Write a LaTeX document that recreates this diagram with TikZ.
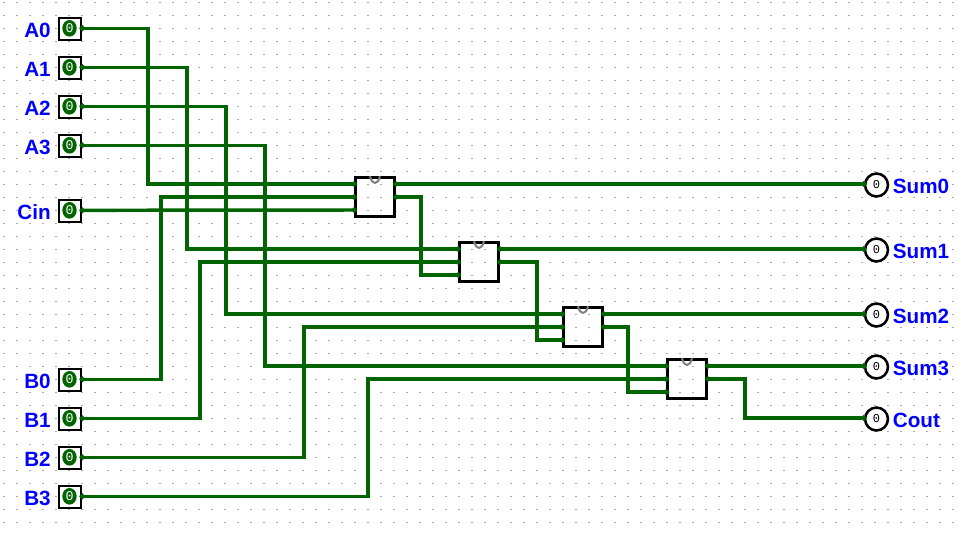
\documentclass[tikz,border=0pt]{standalone}
\usepackage{fontspec}
\usepackage{xcolor}
\setmainfont{Liberation Sans}
\setmonofont{Liberation Mono}
\usetikzlibrary{arrows.meta, positioning, shapes.geometric, calc}
\definecolor{wiregreen}{HTML}{006400}
\definecolor{griddot}{HTML}{555555}

\begin{document}
\begin{tikzpicture}[
    x=0.75pt, y=-0.75pt,
    inbox/.style={rectangle, draw=black, fill=white, line width=1.9pt, minimum size=16.6pt, inner sep=0pt},
    led/.style={ellipse, fill=wiregreen, text=white, minimum width=10.8pt, minimum height=12.5pt, inner sep=0pt, font=\ttfamily\fontsize{10}{10}\selectfont},
    outcircle/.style={circle, draw=black, fill=white, line width=1.9pt, minimum size=17.2pt, inner sep=0pt, font=\ttfamily\fontsize{9}{9}\selectfont},
    adderbox/.style={rectangle, draw=black, line width=1.9pt, minimum size=29.2pt, inner sep=0pt},
    pinlabel/.style={text=blue, inner sep=0pt, font=\bfseries\fontsize{15.5}{15.5}\selectfont},
    wire/.style={{Circle[length=4pt,width=4pt]}-{Circle[length=4pt,width=4pt]}, draw=wiregreen, line width=2.6pt, shorten >=-2pt, shorten <=-2pt},
    notch/.style={draw=gray, line width=1.5pt}
]
\useasboundingbox (0,0) rectangle (966,532);

% background grid
\foreach \i in {0,...,73} {
    \foreach \j in {0,...,40} {
        \fill[griddot] ({4+13*\i},{2.5+13*\j}) circle[radius=0.55];
    }
}

% inputs
\node[inbox] (a0) at (70,29) {};
\node[led] (a0led) at (69.5,28.3) {0};
\node[pinlabel, left=5pt of a0, yshift=-1pt] (a0text) {A0};
\node[inbox] (a1) at (70,68) {};
\node[led] (a1led) at (69.5,67.3) {0};
\node[pinlabel, left=5pt of a1, yshift=-1pt] (a1text) {A1};
\node[inbox] (a2) at (70,107) {};
\node[led] (a2led) at (69.5,106.3) {0};
\node[pinlabel, left=5pt of a2, yshift=-1pt] (a2text) {A2};
\node[inbox] (a3) at (70,146) {};
\node[led] (a3led) at (69.5,145.3) {0};
\node[pinlabel, left=5pt of a3, yshift=-1pt] (a3text) {A3};
\node[inbox] (cin) at (70,211) {};
\node[led] (cinled) at (69.5,210.3) {0};
\node[pinlabel, left=5pt of cin, yshift=-1pt] (cintext) {Cin};
\node[inbox] (b0) at (70,380) {};
\node[led] (b0led) at (69.5,379.3) {0};
\node[pinlabel, left=5pt of b0, yshift=-1pt] (b0text) {B0};
\node[inbox] (b1) at (70,419) {};
\node[led] (b1led) at (69.5,418.3) {0};
\node[pinlabel, left=5pt of b1, yshift=-1pt] (b1text) {B1};
\node[inbox] (b2) at (70,458) {};
\node[led] (b2led) at (69.5,457.3) {0};
\node[pinlabel, left=5pt of b2, yshift=-1pt] (b2text) {B2};
\node[inbox] (b3) at (70,497) {};
\node[led] (b3led) at (69.5,496.3) {0};
\node[pinlabel, left=5pt of b3, yshift=-1pt] (b3text) {B3};

% full adders
\node[adderbox] (adder0) at (375,197) {};
\node[adderbox] (adder1) at (479,262) {};
\node[adderbox] (adder2) at (583,327) {};
\node[adderbox] (adder3) at (687,379) {};

\foreach \n in {adder0,adder1,adder2,adder3} {
    \coordinate (\n ina) at ($(\n.west)+(0,-13)$);
    \coordinate (\n inb) at (\n.west);
    \coordinate (\n inc) at ($(\n.west)+(0,13)$);
    \coordinate (\n sum) at ($(\n.east)+(0,-13)$);
    \coordinate (\n carry) at (\n.east);
    \draw[notch] ($(\n.north)+(-5,0)$) .. controls ($(\n.north)+(-3,9)$) and ($(\n.north)+(3,9)$) .. ($(\n.north)+(5,0)$);
}

% outputs
\node[outcircle] (sum0) at (876.5,185) {\texttt{0}};
\node[pinlabel, right=2.5pt of sum0, yshift=-1pt] (sum0text) {Sum0};
\node[outcircle] (sum1) at (876.5,250) {\texttt{0}};
\node[pinlabel, right=2.5pt of sum1, yshift=-1pt] (sum1text) {Sum1};
\node[outcircle] (sum2) at (876.5,315) {\texttt{0}};
\node[pinlabel, right=2.5pt of sum2, yshift=-1pt] (sum2text) {Sum2};
\node[outcircle] (sum3) at (876.5,367) {\texttt{0}};
\node[pinlabel, right=2.5pt of sum3, yshift=-1pt] (sum3text) {Sum3};
\node[outcircle] (cout) at (876.5,419) {\texttt{0}};
\node[pinlabel, right=2.5pt of cout, yshift=-1pt] (couttext) {Cout};

% wires
\draw[wire] (a0led -| a0.east) -| (148,184) -- (adder0ina);
\draw[wire] (a1led -| a1.east) -| (187,249) -- (adder1ina);
\draw[wire] (a2led -| a2.east) -| (226,314) -- (adder2ina);
\draw[wire] (a3led -| a3.east) -| (265,366) -- (adder3ina);
\draw[wire] (cinled -| cin.east) -- (adder0inc);
\draw[wire] (b0led -| b0.east) -| (161,197) -- (adder0inb);
\draw[wire] (b1led -| b1.east) -| (200,262) -- (adder1inb);
\draw[wire] (b2led -| b2.east) -| (304,327) -- (adder2inb);
\draw[wire] (b3led -| b3.east) -| (368,379) -- (adder3inb);

\draw[wire] (adder0carry) -| (421,275) -- (adder1inc);
\draw[wire] (adder1carry) -| (537,340) -- (adder2inc);
\draw[wire] (adder2carry) -| (628,392) -- (adder3inc);

\draw[wire] (adder0sum) -- (adder0sum -| sum0.west);
\draw[wire] (adder1sum) -- (adder1sum -| sum1.west);
\draw[wire] (adder2sum) -- (adder2sum -| sum2.west);
\draw[wire] (adder3sum) -- (adder3sum -| sum3.west);
\draw[wire] (adder3carry) -| (745,418) -- (cout.west |- 745,418);

\end{tikzpicture}
\end{document}
